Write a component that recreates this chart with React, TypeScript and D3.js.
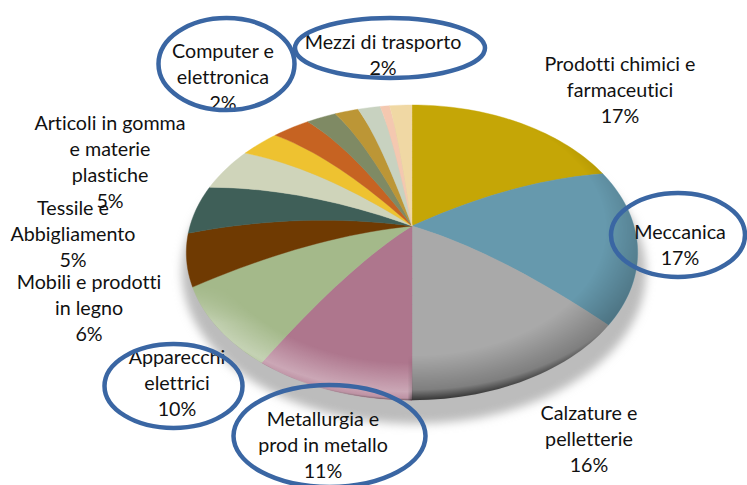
import React from "react";
import * as d3 from "d3";

// Slice order runs clockwise from 12 o'clock.
const categories = [
  "Prodotti chimici e farmaceutici", "Meccanica", "Calzature e pelletterie",
  "Metallurgia e prod in metallo", "Apparecchi elettrici", "Mobili e prodotti in legno",
  "Tessile e Abbigliamento", "Articoli in gomma e materie plastiche", "Computer e elettronica",
  "Mezzi di trasporto", "Altro 1", "Altro 2", "Altro 3", "Altro 4", "Altro 5",
];
// Shares as measured on the drawn (perspective) pie.
const shares = [18.6, 17.0, 14.4, 9.8, 8.7, 5.7, 5.4, 4.9, 3.25, 3.15, 2.5, 2.0, 1.9, 0.8, 1.9];
const colors = [
  "#c5a606", "#6699ad", "#a9a9a9", "#ae768d", "#a4b98a", "#6f3a02", "#3f5f58", "#cfd4ba",
  "#eec230", "#c66322", "#7f8a64", "#bc9636", "#c8d2c0", "#f4c8b0", "#f0d8a4",
];

type Label = { lines: string[]; x: number; y: number };
const labels: Label[] = [
  { lines: ["Prodotti chimici e", "farmaceutici", "17%"], x: 620, y: 71 },
  { lines: ["Meccanica", "17%"], x: 680, y: 239 },
  { lines: ["Calzature e", "pelletterie", "16%"], x: 589, y: 420 },
  { lines: ["Metallurgia e", "prod in metallo", "11%"], x: 323, y: 426 },
  { lines: ["Apparecchi", "elettrici", "10%"], x: 177, y: 364 },
  { lines: ["Mobili e prodotti", "in legno", "6%"], x: 89, y: 289 },
  { lines: ["Tessile e", "Abbigliamento", "5%"], x: 73, y: 215 },
  { lines: ["Articoli in gomma", "e materie", "plastiche", "5%"], x: 110, y: 130 },
  { lines: ["Computer e", "elettronica", "2%"], x: 223, y: 58 },
  { lines: ["Mezzi di trasporto", "2%"], x: 383, y: 49 },
];
const rings = [
  { cx: 226.5, cy: 64, rx: 68, ry: 46 },
  { cx: 390, cy: 48, rx: 95, ry: 30 },
  { cx: 678, cy: 235, rx: 67, ry: 42 },
  { cx: 173.5, cy: 386, rx: 69, ry: 42 },
  { cx: 329.5, cy: 436, rx: 96, ry: 51 },
];

const apex = { x: 412, y: 226 };
const A = 222, B = 142.8, K = 0.18, DOME = 9;

function project(theta: number, r: number): [number, number] {
  const u = r * Math.sin(theta), v = -r * Math.cos(theta);
  const w = 1 - K * v;
  return [apex.x + (A * u) / w, apex.y + (B * v) / w - DOME * 4 * r * (1 - r)];
}

const rs = d3.range(0, 1.0001, 0.05);
const pie = d3.pie<number>().sort(null).value((d) => d);
const arcs = pie(shares);
const line = d3.line();

function slicePath(a0: number, a1: number): string {
  const steps = Math.max(2, Math.ceil((a1 - a0) / 0.03));
  const pts: [number, number][] = [];
  rs.forEach((r) => pts.push(project(a0, r)));
  d3.range(1, steps).forEach((i) => pts.push(project(a0 + ((a1 - a0) * i) / steps, 1)));
  rs.slice().reverse().forEach((r) => pts.push(project(a1, r)));
  return line(pts) + "Z";
}
const outline = slicePath(0, 2 * Math.PI);

export default function App() {
  return (
    <svg width={747} height={485} style={{ position: "fixed", left: 0, top: 0, background: "#fff" }}>
      <defs>
        <filter id="blur" x="-10%" y="-10%" width="120%" height="120%">
          <feGaussianBlur stdDeviation="5" />
        </filter>
        <radialGradient id="rimDark" cx="0.5" cy="0.42" r="0.58">
          <stop offset="0.74" stopColor="#000" stopOpacity="0" />
          <stop offset="0.94" stopColor="#000" stopOpacity="0.25" />
          <stop offset="1" stopColor="#000" stopOpacity="0.68" />
        </radialGradient>
        <radialGradient id="rimLight" cx="0.5" cy="0.42" r="0.58">
          <stop offset="0.78" stopColor="#fff" stopOpacity="0" />
          <stop offset="0.95" stopColor="#fff" stopOpacity="0.36" />
          <stop offset="0.985" stopColor="#fff" stopOpacity="0.22" />
          <stop offset="1" stopColor="#333" stopOpacity="0.5" />
        </radialGradient>
        <linearGradient id="sideR" x1="0" x2="1" y1="0" y2="0">
          <stop offset="0.49" stopColor="#fff" stopOpacity="0" />
          <stop offset="0.5" stopColor="#fff" stopOpacity="1" />
        </linearGradient>
        <linearGradient id="sideL" x1="0" x2="0" y1="0" y2="1">
          <stop offset="0" stopColor="#fff" stopOpacity="0" />
          <stop offset="0.3" stopColor="#fff" stopOpacity="1" />
        </linearGradient>
        <mask id="maskR" maskUnits="userSpaceOnUse" x="0" y="0" width="747" height="485">
          <rect x="186" y="100" width="452" height="310" fill="url(#sideR)" />
        </mask>
        <mask id="maskL" maskUnits="userSpaceOnUse" x="0" y="0" width="747" height="485">
          <rect x="186" y="285" width="226" height="125" fill="url(#sideL)" />
        </mask>
      </defs>
      <ellipse cx={414} cy={272} rx={232} ry={152} fill="#bcbcbc" filter="url(#blur)" />
      <g>
        {arcs.map((a, i) => (
          <path key={categories[i]} d={slicePath(a.startAngle, a.endAngle)} fill={colors[i]} stroke={colors[i]} strokeWidth={0.4} />
        ))}
      </g>
      <path d={outline} fill="url(#rimDark)" mask="url(#maskR)" />
      <path d={outline} fill="url(#rimLight)" mask="url(#maskL)" />
      <g fontFamily="Lato, 'Open Sans', sans-serif" fontSize={19.7} fill="#111" textAnchor="middle" style={{ fontVariantLigatures: "none" }}>
        {labels.map((l) => (
          <text key={l.lines[0]} x={l.x} y={l.y}>
            {l.lines.map((t, i) => (
              <tspan key={i} x={l.x} dy={i === 0 ? 0 : 26}>{t}</tspan>
            ))}
          </text>
        ))}
      </g>
      <g fill="none" stroke="#3a66a3" strokeWidth={4.5}>
        {rings.map((r) => (
          <ellipse key={r.cx} {...r} />
        ))}
      </g>
    </svg>
  );
}
